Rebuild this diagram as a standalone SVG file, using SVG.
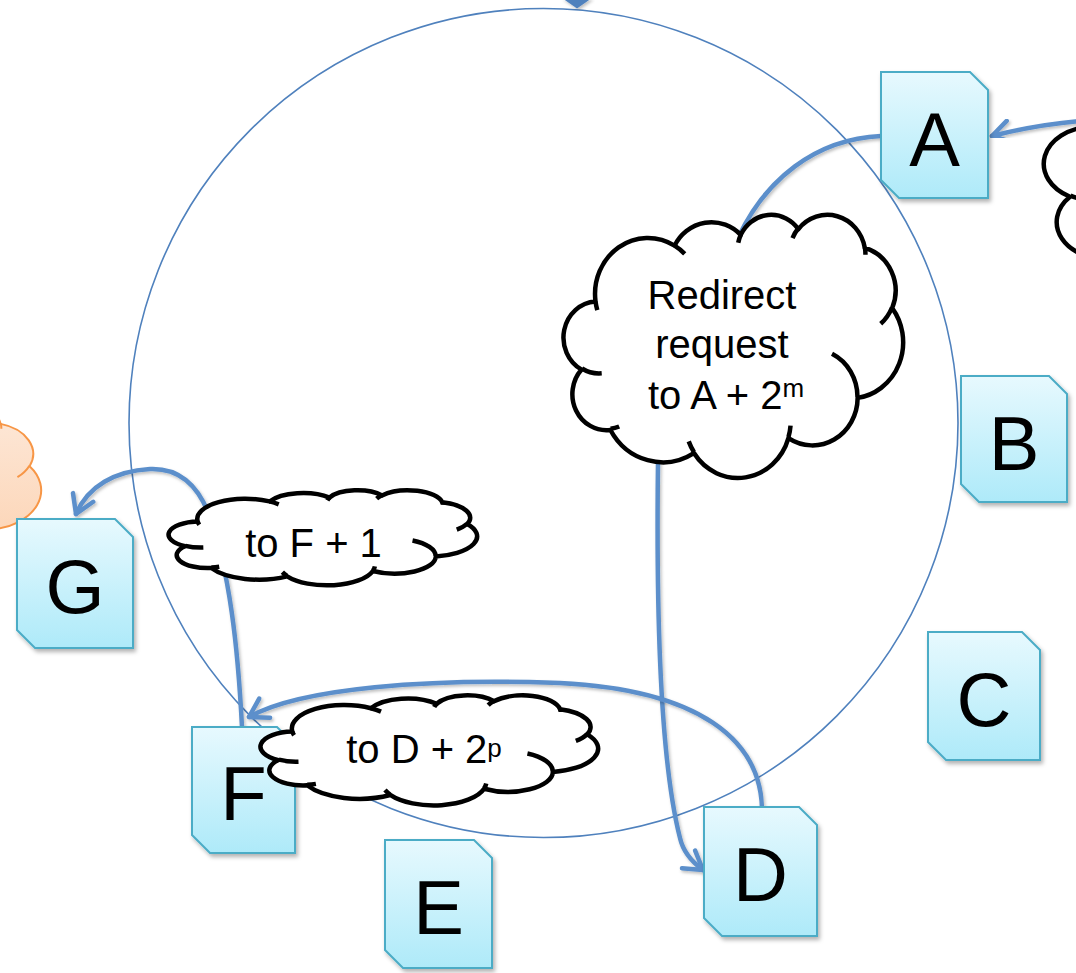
<svg xmlns="http://www.w3.org/2000/svg" xmlns:xlink="http://www.w3.org/1999/xlink" width="1076" height="973" viewBox="0 0 1076 973">
<style>
.node{fill:url(#nodeFill);stroke:#4bacc6;stroke-width:2;filter:url(#nodeShadow)}
.letter{font-family:"Liberation Sans",Arial,sans-serif;font-size:76px;fill:#000;text-anchor:middle}
.ctext{font-family:"Liberation Sans",Arial,sans-serif;font-size:40px;fill:#000;text-anchor:middle}
.sup{font-size:26px}
.cloud{fill:#fff;stroke:#000;stroke-width:4.5;stroke-linejoin:round}
.cloudInner{fill:none;stroke:#000;stroke-width:4.5;stroke-linecap:butt}
.ocloud{fill:url(#orangeFill);stroke:#f79646;stroke-width:2}
.ocloudInner{fill:none;stroke:#f79646;stroke-width:2}
.conn{fill:none;stroke:#5b8fcb;stroke-width:4.5;stroke-linecap:round;filter:url(#lineShadow)}
.ring{fill:none;stroke:#4f81bd;stroke-width:1.6}
</style>
<defs>
<linearGradient id="nodeFill" x1="0" y1="0" x2="0" y2="1">
<stop offset="0" stop-color="#e7f9fe"/>
<stop offset="1" stop-color="#aeeaf9"/>
</linearGradient>
<linearGradient id="orangeFill" x1="0" y1="0" x2="0" y2="1">
<stop offset="0" stop-color="#fde9da"/>
<stop offset="1" stop-color="#fccfac"/>
</linearGradient>
<filter id="nodeShadow" x="-20%" y="-20%" width="140%" height="140%">
<feDropShadow dx="2" dy="3" stdDeviation="2" flood-color="#000" flood-opacity="0.3"/>
</filter>
<filter id="lineShadow" x="-10%" y="-10%" width="120%" height="120%">
<feDropShadow dx="1.5" dy="2" stdDeviation="1.5" flood-color="#000" flood-opacity="0.25"/>
</filter>
<marker id="openArrow" markerUnits="userSpaceOnUse" orient="auto" refX="0" refY="0" markerWidth="30" markerHeight="30" overflow="visible">
<path d="M-18,-11 L0,0 L-18,11" fill="none" stroke="#5b8fcb" stroke-width="4.5" stroke-linecap="round" stroke-linejoin="round"/>
</marker>
<path id="cloudShape" vector-effect="non-scaling-stroke" d="M9.03,33.26 A15.63,21.27 0 0 1 32.42,12.04 A12.35,16.82 0 0 1 51.98,7.95 A10.1,13.76 0 0 1 69.06,5.74 A11.24,15.27 0 0 1 88.7,12.91 A12.35,16.84 0 0 1 96.8,35.79 A15.68,21.34 0 0 1 86.58,69.92 A13.39,18.21 0 0 1 66.1,85.22 A15.63,21.33 0 0 1 38.15,90.9 A17.87,24.41 0 0 1 13.44,82.12 A10.09,13.7 0 0 1 4.9,59.16 A10.06,13.76 0 0 1 9.03,33.26 Z"/>
<path id="cloudDetail" vector-effect="non-scaling-stroke" d="M10.86,60.59 A10.06,13.76 0 0 1 5,58.75 M16.04,80.78 A10.09,13.7 0 0 1 13.47,81.67 M38.14,90.49 A15.63,21.33 0 0 1 36.6,86.45 M66.73,80.44 A15.63,21.33 0 0 1 66.11,84.86 M79,53.13 A13.39,18.21 0 0 1 86.53,69.65 M96.75,35.54 A12.35,16.84 0 0 1 93.4,41.74 M88.71,12.56 A11.24,15.27 0 0 1 88.89,15.49 M67.31,9.15 A11.24,15.27 0 0 1 69.03,5.42 M51.25,10.93 A10.1,13.76 0 0 1 52.08,7.71 M32.41,12.02 A15.63,21.27 0 0 1 35.42,15.14 M9.55,36.55 A15.63,21.27 0 0 1 9.03,33.26"/>
</defs>
<rect x="0" y="0" width="1076" height="973" fill="#fff"/>

<g id="ring">
<circle class="ring" cx="543.5" cy="423" r="414.5"/>
</g>

<g id="cloud-orange">
<use href="#cloudShape" class="ocloud" transform="translate(-316,400) scale(3.57,1.85)"/>
<use href="#cloudDetail" class="ocloudInner" transform="translate(-316,400) scale(3.57,1.85)"/>
</g>

<g id="connectors">
<path class="conn" d="M1080,121 Q1035,125 992,136" marker-end="url(#openArrow)"/>
<path class="conn" d="M881,136 C815,139 765,180 738,238"/>
<path class="conn" d="M658,462 C656,620 660,760 680,838 Q684,856 703,870" marker-end="url(#openArrow)"/>
<path class="conn" d="M762,808 C760,740 700,690 560,683 C430,678 300,688 249,717" marker-end="url(#openArrow)"/>
<path class="conn" d="M242,727 C238,650 230,570 208,512 C195,480 175,468 150,469 C115,471 88,486 76,514" marker-end="url(#openArrow)"/>
<polygon points="562,-2 592,-2 577,8.5" fill="#4f81bd" filter="url(#lineShadow)"/>
</g>

<g id="node-A">
<path class="node" d="M881,72 H970 L988,90 V198 H899 L881,180 Z"/>
<text class="letter" x="934.5" y="166">A</text>
</g>
<g id="node-B">
<path class="node" d="M961,376 H1049 L1067,394 V502 H979 L961,484 Z"/>
<text class="letter" x="1014" y="470">B</text>
</g>
<g id="node-C">
<path class="node" d="M928,632 H1022 L1040,650 V760 H946 L928,742 Z"/>
<text class="letter" x="984" y="726">C</text>
</g>
<g id="node-D">
<path class="node" d="M704,807 H799 L817,825 V936 H722 L704,918 Z"/>
<text class="letter" x="760.5" y="901">D</text>
</g>
<g id="node-E">
<path class="node" d="M385,840 H474 L492,858 V968 H403 L385,950 Z"/>
<text class="letter" x="438.5" y="934">E</text>
</g>
<g id="node-F">
<path class="node" d="M192,727 H277 L295,745 V853 H210 L192,835 Z"/>
<text class="letter" x="243.5" y="820">F</text>
</g>
<g id="node-G">
<path class="node" d="M17,519 H115 L133,537 V648 H35 L17,630 Z"/>
<text class="letter" x="75" y="613">G</text>
</g>

<g id="cloud-right">
<use href="#cloudShape" class="cloud" transform="translate(1046,37) scale(4.9,2.7)"/>
<use href="#cloudDetail" class="cloudInner" transform="translate(1046,37) scale(4.9,2.7)"/>
</g>

<g id="cloud-redirect">
<use href="#cloudShape" class="cloud" transform="translate(565,214) scale(3.38,2.63)"/>
<use href="#cloudDetail" class="cloudInner" transform="translate(565,214) scale(3.38,2.63)"/>
<text class="ctext" x="722" y="309">Redirect</text>
<text class="ctext" x="722" y="358">request</text>
<text class="ctext" x="726" y="409">to A + 2<tspan class="sup" dy="-12">m</tspan></text>
</g>

<g id="cloud-F1">
<use href="#cloudShape" class="cloud" transform="translate(170,490) scale(3.07,0.95)"/>
<use href="#cloudDetail" class="cloudInner" transform="translate(170,490) scale(3.07,0.95)"/>
<text class="ctext" x="313.5" y="557">to F + 1</text>
</g>

<g id="cloud-D2p">
<use href="#cloudShape" class="cloud" transform="translate(262,695) scale(3.36,1.1)"/>
<use href="#cloudDetail" class="cloudInner" transform="translate(262,695) scale(3.36,1.1)"/>
<text class="ctext" x="424" y="763">to D + 2<tspan class="sup" dy="-6">p</tspan></text>
</g>
</svg>
